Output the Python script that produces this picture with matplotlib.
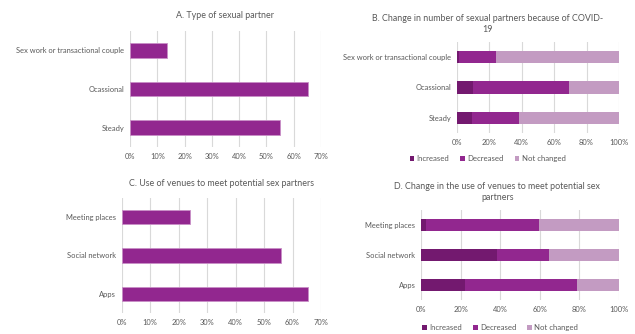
import matplotlib
matplotlib.use("Agg")
import matplotlib.pyplot as plt
from matplotlib.ticker import PercentFormatter

plt.rcParams['font.family'] = ['Lato', 'DejaVu Sans']

# A / B categories (bottom to top)
partner_types = ["Steady", "Ocassional", "Sex work or transactional couple"]
partner_share = [55.0, 65.2, 13.4]
partner_increased = [9.4, 10.0, 1.6]
partner_decreased = [29.2, 59.2, 22.4]
partner_unchanged = [61.4, 30.8, 76.0]

# C / D categories (bottom to top)
venues = ["Apps", "Social network", "Meeting places"]
venue_share = [65.3, 55.8, 24.1]
venue_increased = [22.4, 38.2, 2.5]
venue_decreased = [56.6, 26.3, 57.3]
venue_unchanged = [21.0, 35.5, 40.2]

dark = "#73196f"
mid = "#92278f"
light = "#c39bc2"
text_col = "#595959"
grid_col = "#d9d9d9"

W, H = 635, 334


def make_axes(fig, left, right, top, bottom):
    return fig.add_axes([left / W, 1 - bottom / H, (right - left) / W, (bottom - top) / H])


def style(ax, xmax, step):
    ax.set_xlim(0, xmax)
    ax.set_ylim(-0.5, 2.5)
    ax.set_xticks(range(0, xmax + 1, step))
    ax.xaxis.set_major_formatter(PercentFormatter(decimals=0))
    ax.grid(axis="x", color=grid_col, linewidth=0.8)
    ax.set_axisbelow(True)
    for s in ax.spines.values():
        s.set_visible(False)
    ax.tick_params(length=0, labelsize=5.4, colors=text_col, pad=4)


def legend(ax, xpos, ypos):
    ax.legend(loc="upper center", bbox_to_anchor=(xpos, ypos), ncol=3, frameon=False,
              fontsize=5.6, labelcolor=text_col, handlelength=0.6, handleheight=0.6,
              handletextpad=0.3, columnspacing=1.4)


fig = plt.figure(figsize=(W / 100, H / 100), dpi=100)

# A
ax = make_axes(fig, 130, 321, 31, 147)
ax.barh(partner_types, partner_share, height=0.38, color=mid, edgecolor="#c98fc7", linewidth=0.6)
style(ax, 70, 10)
ax.set_title("A. Type of sexual partner", fontsize=6.4, color=text_col, pad=9)

# B
ax = make_axes(fig, 456.7, 619, 42, 133)
left = [0] * 3
for vals, col, lab in [(partner_increased, dark, "Increased"),
                       (partner_decreased, mid, "Decreased"),
                       (partner_unchanged, light, "Not changed")]:
    ax.barh(partner_types, vals, left=left, height=0.4, color=col, label=lab)
    left = [a + b for a, b in zip(left, vals)]
style(ax, 100, 20)
ax.set_title("B. Change in number of sexual partners because of COVID-\n19",
             fontsize=6.4, color=text_col, pad=7, x=0.19, linespacing=1.3)
legend(ax, 0.19, -0.17)

# C
ax = make_axes(fig, 121.7, 321, 198, 313)
ax.barh(venues, venue_share, height=0.38, color=mid, edgecolor="#c98fc7", linewidth=0.6)
style(ax, 70, 10)
ax.set_title("C. Use of venues to meet potential sex partners", fontsize=6.4,
             color=text_col, pad=9)

# D
ax = make_axes(fig, 421, 619, 210, 300)
left = [0] * 3
for vals, col, lab in [(venue_increased, dark, "Increased"),
                       (venue_decreased, mid, "Decreased"),
                       (venue_unchanged, light, "Not changed")]:
    ax.barh(venues, vals, left=left, height=0.4, color=col, label=lab)
    left = [a + b for a, b in zip(left, vals)]
style(ax, 100, 20)
ax.set_title("D. Change in the use of venues to meet potential sex\npartners",
             fontsize=6.4, color=text_col, pad=7, x=0.386, linespacing=1.3)
legend(ax, 0.4, -0.19)

fig.savefig("out.png", dpi=100, facecolor="white")
